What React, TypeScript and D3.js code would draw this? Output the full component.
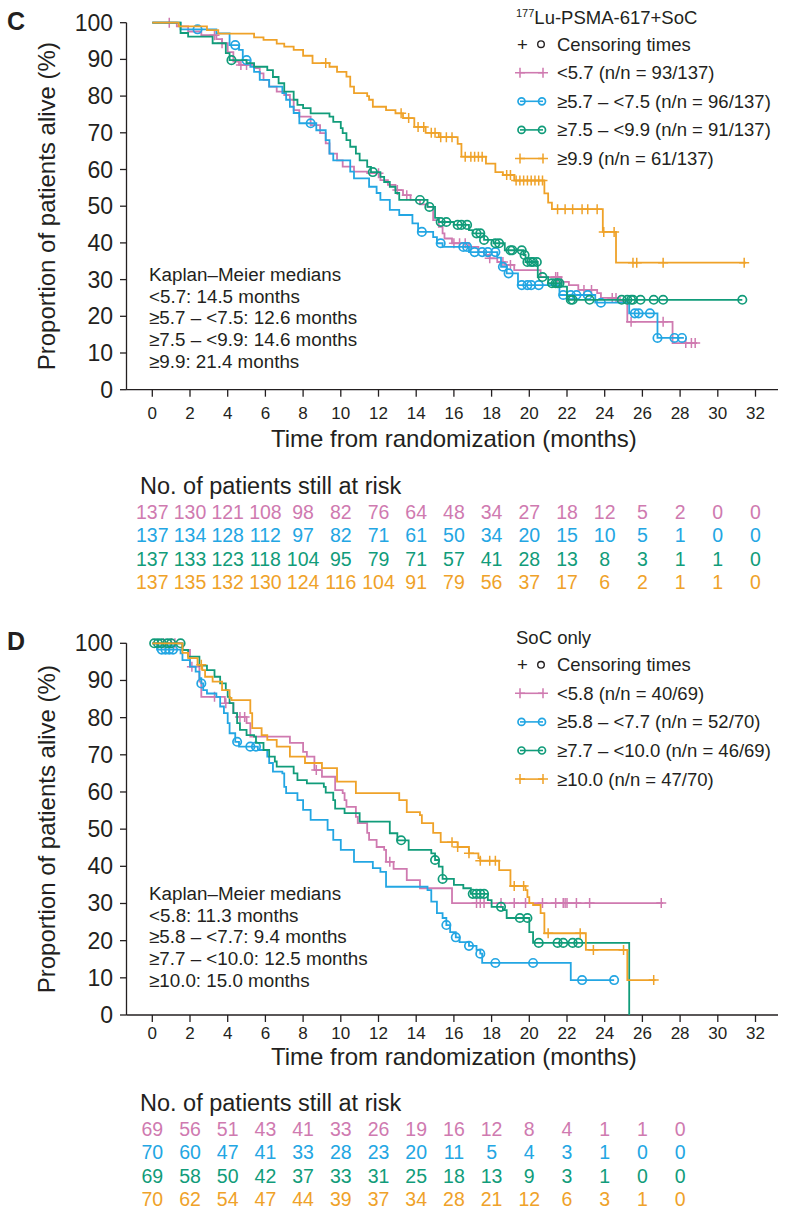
import React from 'react';
import * as d3 from 'd3';

type Pt = [number, number];

const FONT = '"Liberation Sans", Arial, Helvetica, sans-serif';
const INK = '#231F20';
const PINK = '#CF7AB0';
const BLUE = '#23A6E3';
const GREEN = '#119C7A';
const ORANGE = '#EFA229';

const xTicks = d3.range(0, 33, 2);
const yTicks = d3.range(0, 101, 10);

// ---------- panel C : 177Lu-PSMA-617 + SoC ----------
const cTitle = 'Lu-PSMA-617+SoC';
const cLabels = ['<5.7 (n/n = 93/137)', '≥5.7 – <7.5 (n/n = 96/137)', '≥7.5 – <9.9 (n/n = 91/137)', '≥9.9 (n/n = 61/137)'];
const cMedians = ['Kaplan–Meier medians', '<5.7: 14.5 months', '≥5.7 – <7.5: 12.6 months', '≥7.5 – <9.9: 14.6 months', '≥9.9: 21.4 months'];

const cPinkSteps: Pt[] = [[0, 100], [1.3, 99], [1.9, 97.6], [2.6, 96.6], [3.4, 95.5], [3.7, 94.4], [4.0, 92], [4.3, 89.4], [4.6, 88.5], [5.4, 87.6], [5.7, 86.2], [5.9, 84.4], [6.2, 82.6], [6.6, 81.2], [7.0, 80.3], [7.3, 79], [7.5, 76.2], [7.8, 74.4], [8.4, 72.1], [8.9, 69.9], [9.2, 67.1], [9.4, 64.3], [9.8, 62.5], [10.1, 60.8], [10.7, 59.4], [11.4, 59], [12.1, 57.1], [12.5, 55.8], [12.9, 54.4], [13.3, 53], [13.7, 51.7], [14.2, 50.5], [14.6, 49.8], [14.9, 46.2], [15.2, 44.4], [15.4, 42.6], [15.5, 41.2], [15.9, 39.9], [16.8, 38.9], [17.3, 37.5], [17.6, 36.7], [17.9, 35.8], [18.3, 34.8], [18.7, 34], [19.2, 32.6], [20.6, 30.7], [21.7, 29.4], [22.1, 28.5], [22.6, 27.2], [23.6, 26.3], [23.8, 25], [24.7, 24.2], [25.2, 18.5], [27.6, 12.7]];
const cPinkCensor = [0.9, 3.3, 3.7, 4.7, 5.0, 12.0, 13.0, 13.5, 16.0, 16.3, 16.6, 17.9, 18.6, 19.0, 21.4, 21.5, 22.9, 23.3, 24.4, 24.6, 25.4, 27.1, 28.3, 28.6, 28.8];
const cPinkEnd = 28.9;
const cPinkRisk = [137, 130, 121, 108, 98, 82, 76, 64, 48, 34, 27, 18, 12, 5, 2, 0, 0];

const cBlueSteps: Pt[] = [[0, 100], [1.5, 98.2], [3.4, 97.1], [4.1, 93.9], [4.6, 92.6], [4.8, 89.8], [5.2, 88], [5.4, 86.6], [5.7, 84.4], [6.2, 82.6], [6.9, 80.8], [7.1, 79], [7.3, 77.1], [7.5, 75.4], [7.8, 72.6], [8.7, 70.7], [9.2, 68], [9.4, 64.3], [9.6, 62.5], [10.5, 59.4], [10.7, 57.6], [11.5, 55.3], [11.9, 53.6], [12.1, 51.7], [12.6, 49], [13.1, 47.6], [13.8, 45.3], [14.1, 43], [14.9, 41.6], [15.1, 39.9], [15.4, 38.9], [16.8, 37.5], [18.3, 36], [18.5, 33.5], [18.8, 31.7], [19.4, 28.5], [21.6, 25.8], [23.5, 23.7], [25.3, 20.8], [26.8, 14.1]];
const cBlueCensor = [2.4, 4.4, 5.0, 8.4, 14.3, 15.3, 16.5, 16.7, 17.1, 17.5, 17.8, 18.2, 18.6, 18.9, 19.6, 19.9, 20.1, 20.5, 21.8, 22.2, 22.5, 23.1, 23.8, 25.6, 25.8, 26.4, 26.8, 27.7, 28.1];
const cBlueEnd = 28.2;
const cBlueRisk = [137, 134, 128, 112, 97, 82, 71, 61, 50, 34, 20, 15, 10, 5, 1, 0, 0];

const cGreenSteps: Pt[] = [[0, 100], [1.5, 97.2], [1.9, 96.2], [3.2, 94.4], [3.9, 91.7], [4.1, 89.8], [5.0, 89], [5.4, 88], [6.1, 87.1], [6.4, 85.2], [6.7, 83.5], [7.0, 81.2], [7.5, 79], [7.7, 77.6], [8.0, 76.7], [8.4, 75.3], [9.4, 74.4], [9.6, 73], [10.0, 71.3], [10.1, 69.9], [10.3, 68], [10.5, 66.2], [10.8, 64.3], [11.0, 62.5], [11.4, 60.7], [11.6, 59.3], [12.1, 58], [12.3, 56.6], [12.6, 55.3], [12.9, 53.6], [13.1, 51.7], [14.6, 49.8], [15.0, 46.8], [15.2, 45.7], [16.0, 44.9], [16.8, 43.5], [17.0, 42.6], [17.6, 40.8], [18.1, 39.9], [18.7, 38], [19.7, 36.7], [19.8, 34.8], [20.45, 30.7], [21.0, 29], [21.7, 28.1], [22.0, 24.5]];
const cGreenCensor = [4.2, 11.7, 14.2, 14.7, 15.3, 15.6, 16.2, 16.4, 16.7, 17.2, 17.4, 17.6, 18.2, 18.4, 19.0, 19.1, 19.6, 19.75, 19.9, 20.1, 20.2, 20.4, 20.7, 21.2, 21.4, 21.5, 21.6, 22.2, 22.3, 23.2, 24.9, 25.2, 25.4, 25.5, 25.9, 26.6, 27.1, 31.3];
const cGreenEnd = 31.3;
const cGreenRisk = [137, 133, 123, 118, 104, 95, 79, 71, 57, 41, 28, 13, 8, 3, 1, 1, 0];

const cOrangeSteps: Pt[] = [[0, 100], [1.4, 99], [2.9, 98], [3.5, 97], [5.4, 96], [5.9, 95.3], [6.6, 94.3], [7.0, 93.5], [7.5, 92.6], [8.0, 91], [8.5, 89], [9.4, 88], [9.8, 86.6], [10.3, 85.3], [10.5, 82.6], [10.7, 80.8], [11.4, 80], [11.5, 79], [11.7, 77.1], [12.4, 76.2], [12.9, 75.3], [13.3, 74], [13.9, 71.6], [14.5, 70], [15.2, 68.8], [16.2, 67], [16.4, 63.5], [17.7, 61.6], [18.2, 59.3], [18.6, 58.5], [19.2, 57], [20.8, 53.5], [21.0, 51], [21.2, 49.2], [23.9, 43], [24.6, 34.6]];
const cOrangeCensor = [9.2, 13.2, 13.6, 14.1, 14.4, 14.8, 15.0, 15.3, 15.6, 15.9, 16.6, 16.9, 17.1, 17.3, 17.5, 18.8, 19.0, 19.3, 19.5, 19.7, 19.9, 20.1, 20.3, 20.5, 20.7, 21.5, 21.9, 22.3, 22.8, 23.1, 23.6, 23.95, 24.5, 25.5, 25.7, 27.1, 31.4];
const cOrangeEnd = 31.5;
const cOrangeRisk = [137, 135, 132, 130, 124, 116, 104, 91, 79, 56, 37, 17, 6, 2, 1, 1, 0];

// ---------- panel D : SoC only ----------
const dTitle = 'SoC only';
const dLabels = ['<5.8 (n/n = 40/69)', '≥5.8 – <7.7 (n/n = 52/70)', '≥7.7 – <10.0 (n/n = 46/69)', '≥10.0 (n/n = 47/70)'];
const dMedians = ['Kaplan–Meier medians', '<5.8: 11.3 months', '≥5.8 – <7.7: 9.4 months', '≥7.7 – <10.0: 12.5 months', '≥10.0: 15.0 months'];

const dPinkSteps: Pt[] = [[0, 100], [1.6, 98.2], [2.0, 93.7], [2.5, 89.7], [2.6, 85.6], [3.85, 83.9], [4.3, 81.2], [4.5, 80.2], [5.0, 78.5], [5.2, 74.9], [7.3, 73.2], [8.0, 70.8], [8.2, 69.5], [8.6, 65.9], [9.0, 64.1], [9.7, 60.5], [10.1, 59.7], [10.2, 57.8], [10.3, 56], [10.8, 53.3], [10.9, 51.6], [11.4, 49], [11.5, 47.1], [11.9, 45.2], [12.3, 44.4], [12.4, 41.2], [12.8, 39.3], [13.5, 36.3], [14.2, 34.1], [15.9, 30.1]];
const dPinkCensor = [0.6, 1.0, 1.2, 2.1, 3.3, 3.9, 4.65, 4.9, 8.7, 12.6, 17.2, 17.4, 17.6, 18.5, 19.2, 19.8, 20.7, 21.4, 21.8, 21.9, 22.0, 22.5, 23.2, 27.0];
const dPinkEnd = 27.1;
const dPinkRisk = [69, 56, 51, 43, 41, 33, 26, 19, 16, 12, 8, 4, 1, 1, 0];

const dBlueSteps: Pt[] = [[0, 100], [0.25, 98.3], [1.5, 97.3], [1.6, 95.5], [2.0, 93.7], [2.3, 92.4], [2.5, 90.6], [2.6, 89.2], [2.7, 87.4], [2.9, 86.5], [3.4, 85.6], [3.6, 83], [3.8, 81.2], [4.0, 78.5], [4.1, 75.8], [4.4, 73.5], [4.6, 72.2], [5.6, 71.3], [6.1, 69.5], [6.2, 67.8], [6.4, 65.5], [6.9, 65], [7.0, 61.4], [7.1, 59.7], [7.7, 57.8], [8.0, 55.2], [8.4, 52.5], [9.3, 49.8], [9.6, 47.1], [10.0, 44.4], [10.7, 41.2], [11.7, 39.5], [12.1, 38.5], [12.4, 34.5], [14.6, 33.6], [14.8, 30.5], [15.1, 27.4], [15.4, 26.1], [15.6, 24.2], [15.8, 22.3], [16.1, 20.9], [16.3, 19.6], [16.8, 18.6], [17.2, 17.5], [17.4, 16.5], [17.5, 14], [22.2, 9.4]];
const dBlueCensor = [0.5, 0.7, 0.9, 1.1, 2.6, 4.5, 5.2, 5.5, 15.6, 16.1, 16.8, 17.4, 18.2, 20.2, 22.8, 24.5];
const dBlueEnd = 24.5;
const dBlueRisk = [70, 60, 47, 41, 33, 28, 23, 20, 11, 5, 4, 3, 1, 0, 0];

const dGreenSteps: Pt[] = [[0, 100], [1.6, 98.2], [1.9, 96.4], [2.5, 94], [2.9, 92.8], [3.3, 91], [3.6, 89.2], [3.9, 87.4], [4.0, 85.6], [4.1, 83.9], [4.3, 81.2], [4.5, 78.5], [4.65, 76.7], [5.0, 75.3], [5.4, 74.9], [5.5, 73.2], [5.9, 71.3], [6.2, 69.5], [6.5, 68.2], [6.6, 66.8], [7.5, 65], [7.7, 63.2], [8.2, 62.3], [9.1, 61.4], [9.2, 59.8], [9.6, 57.8], [9.7, 55.5], [10.2, 54.3], [11.0, 52], [12.6, 48.9], [13.0, 47], [13.6, 44.4], [14.8, 43.5], [15.0, 41.7], [15.2, 39.9], [15.4, 36.6], [16.0, 35], [16.5, 34.1], [16.9, 32.6], [17.8, 30.9], [18.0, 29.1], [18.6, 28.2], [18.8, 26.1], [20.0, 22.3], [20.2, 19.4], [25.3, 0]];
const dGreenCensor = [0.1, 0.3, 0.5, 0.8, 1.0, 1.5, 13.2, 15.0, 15.4, 17.0, 17.2, 17.4, 17.6, 18.5, 19.5, 19.9, 20.5, 21.5, 21.8, 22.3, 22.6];
const dGreenEnd = 25.3;
const dGreenRisk = [69, 58, 50, 42, 37, 33, 31, 25, 18, 13, 9, 3, 1, 0, 0];

const dOrangeSteps: Pt[] = [[0, 100], [1.6, 97.4], [1.9, 96], [2.4, 94.2], [2.65, 92.8], [2.8, 91], [3.2, 89.7], [3.7, 87.4], [4.1, 85.3], [4.2, 84.7], [5.2, 81.2], [5.3, 77.2], [5.8, 75.3], [6.1, 74], [6.6, 72.2], [7.3, 69.5], [8.1, 67.8], [9.0, 66.4], [9.8, 62.8], [10.8, 59.7], [13.1, 57.8], [13.5, 54.6], [14.2, 53.8], [14.3, 51.6], [14.9, 49], [15.3, 46.5], [16.2, 45.2], [16.8, 43.5], [17.3, 42.2], [17.4, 41.5], [18.4, 39], [19.0, 34.7], [19.8, 33.6], [19.9, 31.7], [20.0, 30.1], [20.2, 29.6], [20.6, 27.4], [20.8, 22], [23.0, 17.5], [25.2, 9.4]];
const dOrangeCensor = [2.6, 15.9, 16.2, 16.8, 17.4, 17.9, 18.2, 19.2, 19.7, 21.0, 22.7, 23.4, 25.0, 26.6];
const dOrangeEnd = 26.7;
const dOrangeRisk = [70, 62, 54, 47, 44, 39, 37, 34, 28, 21, 12, 6, 3, 1, 0];

type Mark = 'plus' | 'circle';
interface Series { steps: Pt[]; censor: number[]; end: number; risk: number[]; color: string; mark: Mark }

const seriesStyle: { color: string; mark: Mark }[] = [
  { color: PINK, mark: 'plus' },
  { color: BLUE, mark: 'circle' },
  { color: GREEN, mark: 'circle' },
  { color: ORANGE, mark: 'plus' },
];

const cSeries: Series[] = [
  { steps: cPinkSteps, censor: cPinkCensor, end: cPinkEnd, risk: cPinkRisk, ...seriesStyle[0] },
  { steps: cBlueSteps, censor: cBlueCensor, end: cBlueEnd, risk: cBlueRisk, ...seriesStyle[1] },
  { steps: cGreenSteps, censor: cGreenCensor, end: cGreenEnd, risk: cGreenRisk, ...seriesStyle[2] },
  { steps: cOrangeSteps, censor: cOrangeCensor, end: cOrangeEnd, risk: cOrangeRisk, ...seriesStyle[3] },
];
const dSeries: Series[] = [
  { steps: dPinkSteps, censor: dPinkCensor, end: dPinkEnd, risk: dPinkRisk, ...seriesStyle[0] },
  { steps: dBlueSteps, censor: dBlueCensor, end: dBlueEnd, risk: dBlueRisk, ...seriesStyle[1] },
  { steps: dGreenSteps, censor: dGreenCensor, end: dGreenEnd, risk: dGreenRisk, ...seriesStyle[2] },
  { steps: dOrangeSteps, censor: dOrangeCensor, end: dOrangeEnd, risk: dOrangeRisk, ...seriesStyle[3] },
];

function survAt(steps: Pt[], t: number) {
  let v = steps[0][1];
  for (const [s, p] of steps) {
    if (s <= t) v = p;
    else break;
  }
  return v;
}

function Marker({ mark, cx, cy, color, size = 5, r = 4.2 }: { mark: Mark; cx: number; cy: number; color: string; size?: number; r?: number }) {
  if (mark === 'circle') return <circle cx={cx} cy={cy} r={r} fill="none" stroke={color} strokeWidth={1.7} />;
  return (
    <path d={`M${cx - size},${cy}H${cx + size}M${cx},${cy - size}V${cy + size}`} stroke={color} strokeWidth={1.5} fill="none" />
  );
}

interface PanelProps {
  letter: string;
  top: number;
  bottom: number;
  title: React.ReactNode;
  labels: string[];
  medians: string[];
  medTop: number;
  series: Series[];
  riskTop: number;
  tickGap: number;
  titleGap: number;
}

function Panel({ letter, top, bottom, title, labels, medians, medTop, series, riskTop, tickGap, titleGap }: PanelProps) {
  const x = d3.scaleLinear().domain([0, 32]).range([152.3, 755.5]);
  const y = d3.scaleLinear().domain([0, 100]).range([bottom, top]);
  const axisX = 126.5;
  const line = d3.line<Pt>().curve(d3.curveStepAfter).x(d => x(d[0])).y(d => y(d[1]));

  return (
    <g fontFamily={FONT}>
      <text x={7} y={top + 7} fontSize={25} fontWeight="bold" fill={INK}>{letter}</text>

      {/* y axis */}
      <line x1={axisX} x2={axisX} y1={y(100)} y2={y(0)} stroke={INK} strokeWidth={1.3} />
      {yTicks.map(t => (
        <g key={t}>
          <line x1={axisX - 6.5} x2={axisX} y1={y(t)} y2={y(t)} stroke={INK} strokeWidth={1.3} />
          <text x={113} y={y(t) + 8} textAnchor="end" fontSize={23} fill={INK}>{t}</text>
        </g>
      ))}
      <text transform={`translate(55,${(y(0) + y(100)) / 2}) rotate(-90)`} textAnchor="middle" fontSize={24} fill={INK}>
        Proportion of patients alive (%)
      </text>

      {/* x axis */}
      <line x1={axisX} x2={778} y1={y(0)} y2={y(0)} stroke={INK} strokeWidth={1.3} />
      {xTicks.map(t => (
        <g key={t}>
          <line x1={x(t)} x2={x(t)} y1={y(0)} y2={y(0) + 7} stroke={INK} strokeWidth={1.3} />
          <text x={x(t)} y={y(0) + tickGap} textAnchor="middle" fontSize={17} fill={INK}>{t}</text>
        </g>
      ))}
      <text x={(x(0) + x(32)) / 2} y={y(0) + titleGap} textAnchor="middle" fontSize={24} fill={INK}>
        Time from randomization (months)
      </text>

      {/* curves */}
      {series.map((s, i) => {
        const last = s.steps[s.steps.length - 1];
        const pts: Pt[] = [...s.steps, [s.end, last[1]]];
        return (
          <g key={i}>
            <path d={line(pts) || ''} fill="none" stroke={s.color} strokeWidth={1.8} />
            {s.censor.map((c, j) => (
              <Marker key={j} mark={s.mark} cx={x(c)} cy={y(survAt(s.steps, c))} color={s.color} />
            ))}
          </g>
        );
      })}

      {/* legend */}
      <text x={516} y={top + 1} fontSize={18.5} fill={INK}>{title}</text>
      <text x={517} y={top + 28} fontSize={18.5} fill={INK}>+</text>
      <circle cx={541} cy={top + 21.5} r={3.3} fill="none" stroke={INK} strokeWidth={1.4} />
      <text x={557} y={top + 28} fontSize={18.5} fill={INK}>Censoring times</text>
      {labels.map((l, i) => {
        const ly = top + 56.5 + i * 28.6;
        const s = series[i];
        return (
          <g key={l}>
            <line x1={520} x2={543} y1={ly - 6.5} y2={ly - 6.5} stroke={s.color} strokeWidth={1.6} />
            <Marker mark={s.mark} cx={s.mark === 'circle' ? 521.5 : 520} cy={ly - 6.5} color={s.color} size={5} r={3.5} />
            <Marker mark={s.mark} cx={s.mark === 'circle' ? 542 : 543} cy={ly - 6.5} color={s.color} size={5} r={3.5} />
            <text x={557} y={ly} fontSize={18.5} fill={INK}>{l}</text>
          </g>
        );
      })}

      {/* medians */}
      {medians.map((m, i) => (
        <text key={m} x={149} y={medTop + i * 21.7} fontSize={18.8} fill={INK}>{m}</text>
      ))}

      {/* number at risk */}
      <text x={140} y={riskTop} fontSize={23.5} fill={INK}>No. of patients still at risk</text>
      {series.map((s, i) => (
        <g key={i}>
          {s.risk.map((v, j) => (
            <text key={j} x={x(j * 2)} y={riskTop + 25 + i * 23.3} textAnchor="middle" fontSize={19.5} fill={s.color}>{v}</text>
          ))}
        </g>
      ))}
    </g>
  );
}

export default function App() {
  const cTitleNode = (
    <>
      <tspan fontSize={11} dy={-7}>177</tspan>
      <tspan dy={7}>{cTitle}</tspan>
    </>
  );
  return (
    <svg width={791} height={1220} style={{ position: 'absolute', left: 0, top: 0, background: '#fff' }}>
      <Panel letter="C" top={22.7} bottom={389.7} title={cTitleNode} labels={cLabels} medians={cMedians} medTop={281} series={cSeries} riskTop={494} tickGap={29} titleGap={57} />
      <Panel letter="D" top={643.3} bottom={1015} title={dTitle} labels={dLabels} medians={dMedians} medTop={900} series={dSeries} riskTop={1111} tickGap={24} titleGap={50} />
    </svg>
  );
}
